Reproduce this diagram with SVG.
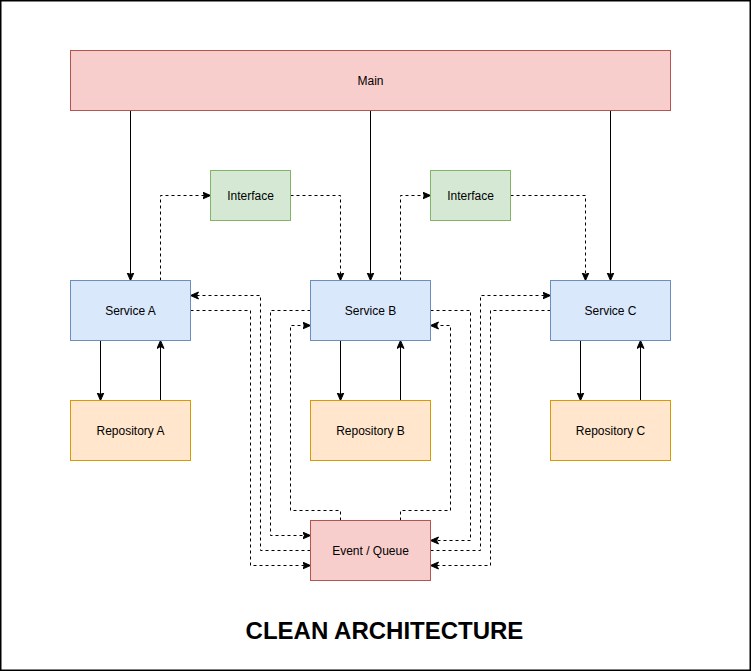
<svg xmlns="http://www.w3.org/2000/svg" width="751" height="671" viewBox="0 0 751 671">
<style>
.n rect{stroke-width:1}
.red rect{fill:#f8cecc;stroke:#b85450}
.blue rect{fill:#dae8fc;stroke:#6c8ebf}
.org rect{fill:#ffe6cc;stroke:#d79b00}
.grn rect{fill:#d5e8d4;stroke:#82b366}
.n text{font-family:"Liberation Sans",Arial,sans-serif;font-size:12px;fill:#000;text-anchor:middle}
.c path{fill:none;stroke:#000;stroke-width:1;marker-end:url(#ah)}
.c path.d{stroke-dasharray:3 3}
.title{font-family:"Liberation Sans",Arial,sans-serif;font-weight:bold;font-size:24px;text-anchor:middle;fill:#000}
</style>
<defs>
<marker id="ah" markerUnits="userSpaceOnUse" markerWidth="10" markerHeight="10" refX="8" refY="4" orient="auto">
<path d="M0,0.5 L8,4 L0,7.5 L2,4 Z" fill="#000" stroke="#000" stroke-width="1" stroke-linejoin="miter"/>
</marker>
</defs>
<rect x="0" y="0" width="751" height="671" fill="#fff"/>
<rect x="0.75" y="0.75" width="749.5" height="669.5" fill="none" stroke="#000" stroke-width="1.5"/>

<g id="connectors" class="c">
<path d="M130.5,110.5 V280.5"/>
<path d="M370.5,110.5 V280.5"/>
<path d="M610.5,110.5 V280.5"/>
<path d="M100.5,340.5 V400.5"/>
<path d="M160.5,400.5 V340.5"/>
<path d="M340.5,340.5 V400.5"/>
<path d="M400.5,400.5 V340.5"/>
<path d="M580.5,340.5 V400.5"/>
<path d="M640.5,400.5 V340.5"/>
<path class="d" d="M160.5,280.5 V195.5 H210.5"/>
<path class="d" d="M290.5,195.5 H340.5 V280.5"/>
<path class="d" d="M400.5,280.5 V195.5 H430.5"/>
<path class="d" d="M510.5,195.5 H585.5 V280.5"/>
<path class="d" d="M310.5,550.5 H260.5 V295.5 H190.5"/>
<path class="d" d="M190.5,310.5 H250.5 V565.5 H310.5"/>
<path class="d" d="M310.5,310.5 H270.5 V535.5 H310.5"/>
<path class="d" d="M340.5,520.5 V510.5 H290.5 V325.5 H310.5"/>
<path class="d" d="M400.5,520.5 V510.5 H450.5 V325.5 H430.5"/>
<path class="d" d="M430.5,310.5 H470.5 V540.5 H430.5"/>
<path class="d" d="M430.5,550.5 H480.5 V295.5 H550.5"/>
<path class="d" d="M550.5,310.5 H490.5 V565.5 H430.5"/>
</g>

<g id="main" class="n red"><rect x="70.5" y="50.5" width="600" height="60"/><text x="370.5" y="84.5">Main</text></g>
<g id="interface1" class="n grn"><rect x="210.5" y="170.5" width="80" height="50"/><text x="250.5" y="199.5">Interface</text></g>
<g id="interface2" class="n grn"><rect x="430.5" y="170.5" width="80" height="50"/><text x="470.5" y="199.5">Interface</text></g>
<g id="serviceA" class="n blue"><rect x="70.5" y="280.5" width="120" height="60"/><text x="130.5" y="314.5">Service A</text></g>
<g id="serviceB" class="n blue"><rect x="310.5" y="280.5" width="120" height="60"/><text x="370.5" y="314.5">Service B</text></g>
<g id="serviceC" class="n blue"><rect x="550.5" y="280.5" width="120" height="60"/><text x="610.5" y="314.5">Service C</text></g>
<g id="repoA" class="n org"><rect x="70.5" y="400.5" width="120" height="60"/><text x="130.5" y="434.5">Repository A</text></g>
<g id="repoB" class="n org"><rect x="310.5" y="400.5" width="120" height="60"/><text x="370.5" y="434.5">Repository B</text></g>
<g id="repoC" class="n org"><rect x="550.5" y="400.5" width="120" height="60"/><text x="610.5" y="434.5">Repository C</text></g>
<g id="eventQueue" class="n red"><rect x="310.5" y="520.5" width="120" height="60"/><text x="370.5" y="554.5">Event / Queue</text></g>

<text class="title" x="384.5" y="639">CLEAN ARCHITECTURE</text>
</svg>
